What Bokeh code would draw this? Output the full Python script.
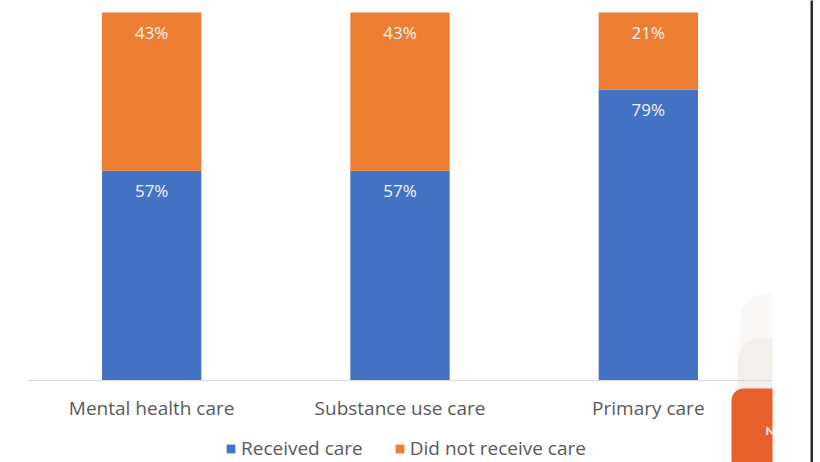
from bokeh.plotting import figure
from bokeh.layouts import row
from bokeh.models import (ColumnDataSource, FactorRange, Range1d, Legend, LegendItem, Label)
from bokeh.core.properties import value
from bokeh.embed import file_html
from bokeh.resources import INLINE

categories = ["Mental health care", "Substance use care", "Primary care"]
received = [57, 57, 79]
not_received = [43, 43, 21]
series_names = ["Received care", "Did not receive care"]

BLUE = "#4472C4"
ORANGE = "#ED7D31"
FONT = "Open Sans"

W, H = 810, 462
LEFT, RIGHT = 27, 38
PLOT_TOP, BASELINE = 12, 380          # pixel rows of 100% and 0%
px_per_unit = (BASELINE - PLOT_TOP) / 100.0

src = ColumnDataSource(dict(
    cat=categories,
    received=received,
    not_received=not_received,
    top_r=received,
    top_n=[r + n for r, n in zip(received, not_received)],
    lab_r=[f"{v}%" for v in received],
    lab_n=[f"{v}%" for v in not_received],
))

chart = figure(x_range=FactorRange(factors=categories, range_padding=0),
               y_range=Range1d(-(H - BASELINE) / px_per_unit, 100 + PLOT_TOP / px_per_unit),
               width=W, height=H, output_backend="svg", toolbar_location=None,
               y_axis_location=None,
               min_border_left=LEFT, min_border_right=RIGHT, min_border_top=0,
               min_border_bottom=0)
chart.outline_line_color = None
chart.xgrid.grid_line_color = None
chart.ygrid.grid_line_color = None


def sx(x):
    return x - LEFT


def sy(y):
    return H - y


def panel(x_left, y_top, color, pad, radius):
    # blank label whose padded background draws a rounded panel from (x_left, y_top)
    return Label(x=sx(x_left), y=sy(y_top), x_units="screen", y_units="screen",
                 text=" ", text_align="left", text_baseline="top",
                 background_fill_color=color, background_fill_alpha=1,
                 padding=pad, border_radius=radius, level="underlay")


# badge backdrop in the lower right corner
chart.add_layout(panel(740, 293, "#faf8f6", 100, 26))
chart.add_layout(panel(737, 338, "#f3f0eb", 100, 22))

bars = chart.vbar_stack(["received", "not_received"], x="cat", width=0.4,
                        color=[BLUE, ORANGE], line_color=None, source=src)

for ycol, lcol in (("top_r", "lab_r"), ("top_n", "lab_n")):
    chart.text(x="cat", y=ycol, text=lcol, source=src, text_color="#f6f6f6",
               text_align="center", text_baseline="middle", y_offset=20,
               text_font=value(FONT), text_font_size="17px")

ax = chart.xaxis[0]
ax.fixed_location = 0
ax.axis_line_color = "#d9d9d9"
ax.major_tick_line_color = None
ax.minor_tick_line_color = None
ax.major_label_standoff = 8
ax.major_label_text_font = FONT
ax.major_label_text_font_size = "19px"
ax.major_label_text_color = "#595959"

legend = Legend(items=[LegendItem(label=series_names[0], renderers=[bars[0]]),
                       LegendItem(label=series_names[1], renderers=[bars[1]])],
                orientation="horizontal", location=(sx(225), 1),
                glyph_width=11, glyph_height=11, label_standoff=5, spacing=31,
                label_text_font=FONT, label_text_font_size="19px",
                label_text_color="#595959", border_line_color=None,
                background_fill_alpha=0, padding=0, margin=0)
chart.add_layout(legend)

# orange badge with its wordmark
chart.add_layout(Label(x=sx(731), y=sy(388), x_units="screen", y_units="screen",
                       text="N  A  T  I  O  N  A  L", text_color="white", text_font="Lato",
                       text_font_size="12px", text_font_style="bold",
                       text_align="left", text_baseline="top",
                       background_fill_color="#E8602C", background_fill_alpha=1,
                       padding=34, border_radius=12))
chart.add_layout(Label(x=sx(773), y=sy(456), x_units="screen", y_units="screen",
                       text="C  O  U  N  C  I  L", text_color="white", text_font="Lato",
                       text_font_size="12px", text_font_style="bold",
                       text_align="left", text_baseline="top"))

# dark rule along the right edge
edge = figure(width=3, height=H, output_backend="svg", toolbar_location=None,
              x_axis_location=None, y_axis_location=None, min_border=0,
              border_fill_color="#2a2e33", background_fill_color="#2a2e33",
              outline_line_color=None)
edge.grid.visible = False

p = row(chart, edge)
open("out.html", "w").write(file_html(p, INLINE))
